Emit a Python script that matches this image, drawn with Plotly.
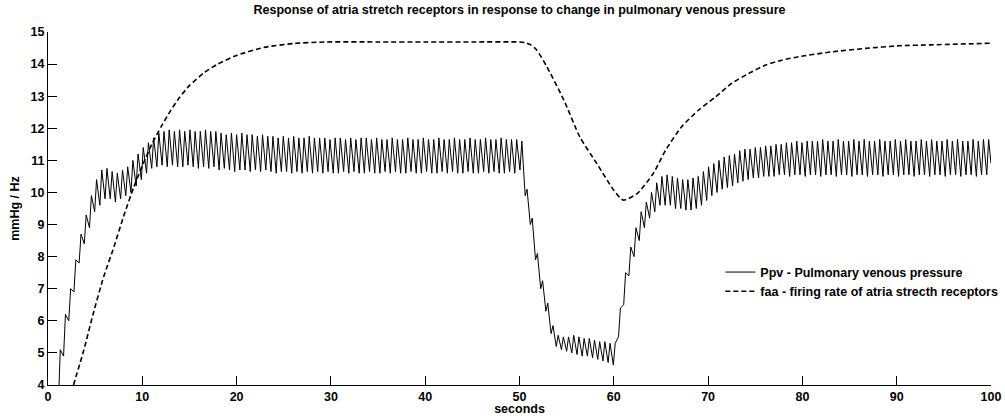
import plotly.graph_objects as go

# ---------------- data ----------------
# Ppv: one trough + one peak per heart beat, beats spaced regularly in time
beat_t0 = 1.1          # time of first beat (s)
beat_period = 0.55     # s
peak_delay = 0.2       # s after beat start

ppv_trough = [
    3.4, 4.9, 6.0, 6.9, 7.8, 8.4, 8.9, 9.4, 9.6, 9.8,
    9.8, 9.7, 9.8, 9.9, 10.0, 10.2, 10.4, 10.6, 10.75, 10.8,
    10.85, 10.8, 10.85, 10.8, 10.8, 10.85, 10.8, 10.75, 10.8, 10.75,
    10.8, 10.7, 10.75, 10.7, 10.65, 10.7, 10.7, 10.65, 10.7, 10.65,
    10.7, 10.65, 10.6, 10.65, 10.65, 10.6, 10.65, 10.6, 10.65, 10.6,
    10.65, 10.6, 10.65, 10.6, 10.6, 10.65, 10.6, 10.65, 10.6, 10.6,
    10.65, 10.6, 10.6, 10.65, 10.6, 10.65, 10.6, 10.6, 10.65, 10.6,
    10.6, 10.65, 10.6, 10.6, 10.65, 10.6, 10.65, 10.6, 10.6, 10.65,
    10.6, 10.6, 10.65, 10.6, 10.65, 10.6, 10.6, 10.65, 10.6, 10.7,
    9.9, 9.0, 7.9, 7.0, 6.3, 5.6, 5.2, 5.1, 5.05, 5.0,
    4.95, 4.9, 4.9, 4.85, 4.8, 4.75, 4.7, 4.62, 5.5, 6.5,
    7.4, 8.0, 8.5, 8.9, 9.2, 9.4, 9.6, 9.6, 9.6, 9.5,
    9.5, 9.45, 9.45, 9.5, 9.6, 9.75, 9.9, 10.0, 10.1, 10.15,
    10.2, 10.3, 10.35, 10.4, 10.45, 10.45, 10.5, 10.5, 10.5, 10.55,
    10.55, 10.5, 10.55, 10.55, 10.5, 10.55, 10.55, 10.5, 10.55, 10.55,
    10.5, 10.55, 10.55, 10.5, 10.55, 10.55, 10.5, 10.55, 10.55, 10.5,
    10.55, 10.55, 10.5, 10.55, 10.55, 10.5, 10.55, 10.55, 10.5, 10.55,
    10.55, 10.5, 10.55, 10.55, 10.5, 10.55, 10.55, 10.5, 10.55, 10.55,
]
ppv_peak = [
    5.1, 6.2, 7.0, 7.9, 8.7, 9.3, 9.9, 10.4, 10.7, 10.75,
    10.65, 10.6, 10.7, 10.8, 11.0, 11.2, 11.4, 11.55, 11.7, 11.85,
    11.9, 11.95, 11.9, 11.95, 11.9, 11.95, 11.9, 11.9, 11.95, 11.9,
    11.9, 11.85, 11.8, 11.85, 11.8, 11.85, 11.8, 11.8, 11.75, 11.8,
    11.75, 11.75, 11.7, 11.75, 11.7, 11.75, 11.7, 11.7, 11.75, 11.7,
    11.7, 11.7, 11.65, 11.7, 11.7, 11.65, 11.7, 11.65, 11.7, 11.7,
    11.65, 11.7, 11.65, 11.65, 11.7, 11.65, 11.65, 11.7, 11.65, 11.65,
    11.7, 11.65, 11.65, 11.7, 11.65, 11.65, 11.7, 11.65, 11.65, 11.7,
    11.65, 11.65, 11.7, 11.65, 11.65, 11.7, 11.65, 11.65, 11.65, 11.6,
    10.1, 9.2, 8.1, 7.25, 6.55, 5.85, 5.55, 5.5, 5.5, 5.55,
    5.5, 5.45, 5.45, 5.4, 5.35, 5.35, 5.3, 5.3, 6.4, 7.5,
    8.3, 8.9, 9.4, 9.7, 10.0, 10.3, 10.5, 10.55, 10.5, 10.45,
    10.4, 10.4, 10.45, 10.5, 10.65, 10.8, 10.9, 11.0, 11.1, 11.15,
    11.2, 11.3, 11.35, 11.35, 11.4, 11.4, 11.45, 11.45, 11.5, 11.5,
    11.55, 11.55, 11.6, 11.55, 11.6, 11.6, 11.6, 11.65, 11.6, 11.6,
    11.65, 11.6, 11.6, 11.65, 11.6, 11.65, 11.6, 11.6, 11.65, 11.6,
    11.6, 11.65, 11.6, 11.65, 11.6, 11.6, 11.65, 11.6, 11.65, 11.6,
    11.6, 11.65, 11.6, 11.65, 11.6, 11.6, 11.65, 11.6, 11.65, 11.65,
]
ppv_end_t = 100.0
ppv_end_y = 10.9

# faa: firing rate of atrial stretch receptors
faa_t = [2.7, 3.8, 4.8, 5.9, 7.0, 8.0, 9.1, 10.1, 11.0, 12.0, 13.0, 14.0,
         15.0, 16.5, 18.0, 20.0, 22.9, 26.0, 29.5, 35.0, 40.0, 45.0, 50.0,
         50.6, 51.2, 51.8, 52.9, 54.7, 56.4, 58.2, 60.0, 61.0, 62.5, 64.2,
         65.5, 67.2, 69.0, 70.8, 72.5, 74.3, 76.1, 77.8, 79.6, 83.1, 86.7,
         90.2, 93.7, 100.0]
faa_y = [4.0, 5.09, 6.23, 7.37, 8.31, 9.24, 10.17, 10.9, 11.5, 12.05, 12.55,
         12.98, 13.33, 13.72, 14.0, 14.27, 14.52, 14.64, 14.69, 14.69, 14.69,
         14.69, 14.69, 14.67, 14.6, 14.45, 13.92, 12.88, 11.73, 10.9, 10.07,
         9.76, 9.97, 10.6, 11.32, 12.05, 12.57, 12.98, 13.4, 13.71, 13.97,
         14.12, 14.23, 14.38, 14.49, 14.57, 14.6, 14.65]

x_ticks = [0, 10, 20, 30, 40, 50, 60, 70, 80, 90, 100]
y_ticks = [4, 5, 6, 7, 8, 9, 10, 11, 12, 13, 14, 15]

# ---------------- build series ----------------
ppv_t, ppv_y = [], []
for k, (lo, hi) in enumerate(zip(ppv_trough, ppv_peak)):
    tk = beat_t0 + k * beat_period
    ppv_t += [tk, tk + peak_delay]
    ppv_y += [lo, hi]
ppv_t.append(ppv_end_t)
ppv_y.append(ppv_end_y)

FONT = "Liberation Sans, Arial, sans-serif"
FS = 12.5
bold = dict(family=FONT, size=FS, color="black", weight="bold")

fig = go.Figure()
fig.add_trace(go.Scatter(
    x=ppv_t, y=ppv_y, mode="lines",
    name="Ppv - Pulmonary venous pressure",
    line=dict(color="black", width=1),
))
fig.add_trace(go.Scatter(
    x=faa_t, y=faa_y, mode="lines",
    name="faa - firing rate of atria strecth receptors",
    line=dict(color="black", width=1.6, dash="5px,3px", shape="spline", smoothing=0.6),
))

fig.update_layout(
    width=1005, height=416,
    margin=dict(l=48, r=14, t=32, b=31, autoexpand=False),
    paper_bgcolor="white", plot_bgcolor="white",
    font=bold,
    title=dict(
        text="Response of atria stretch receptors in response to change in pulmonary venous pressure",
        x=0.5, xref="paper", y=1 - 10 / 416, yref="container",
        xanchor="center", yanchor="middle",
        font=bold,
    ),
    showlegend=True,
    legend=dict(
        x=0.713, y=0.292, xanchor="left", yanchor="middle",
        bgcolor="rgba(0,0,0,0)", borderwidth=0,
        font=bold, tracegroupgap=0,
    ),
    xaxis=dict(
        range=[0, 100], tickvals=x_ticks, ticks="inside", ticklen=9,
        tickcolor="black", showline=True, linecolor="black", linewidth=1,
        showgrid=False, zeroline=False, mirror=False,
        title=dict(text="seconds", standoff=0, font=bold),
        tickfont=bold,
    ),
    yaxis=dict(
        range=[4, 15], tickvals=y_ticks, ticks="inside", ticklen=9,
        tickcolor="black", showline=True, linecolor="black", linewidth=1,
        showgrid=False, zeroline=False, mirror=False,
        title=dict(text="mmHg / Hz", standoff=8, font=bold),
        tickfont=bold,
    ),
)

fig.write_html("out.html")
